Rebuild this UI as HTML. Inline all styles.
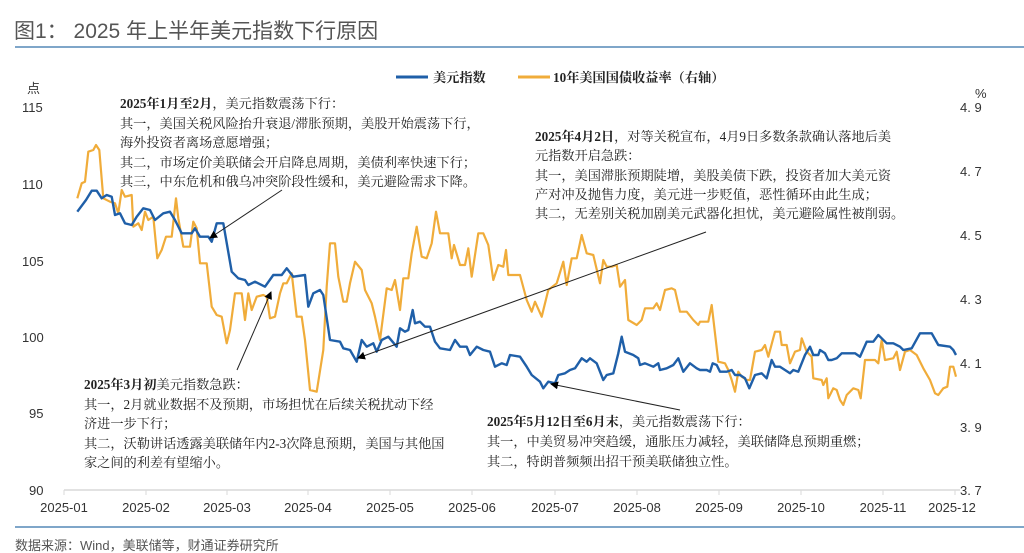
<!DOCTYPE html>
<html><head><meta charset="utf-8"><style>
body{margin:0;background:#fff;width:1024px;height:553px;overflow:hidden}
svg{display:block}
.s{font-family:"Liberation Serif","Noto Serif CJK SC",serif;font-size:13.2px;fill:#222}
.a{font-family:"Liberation Sans","Noto Sans CJK SC",sans-serif;font-size:13px;fill:#333}
</style></head><body>
<svg width="1024" height="553" viewBox="0 0 1024 553">
<text x="14" y="38" font-family="Liberation Sans,'Noto Sans CJK SC',sans-serif" font-size="21" fill="#555">图1：  2025 年上半年美元指数下行原因</text>
<line x1="15" y1="47" x2="1024" y2="47" stroke="#7fa6c9" stroke-width="2"/>
<line x1="15" y1="527" x2="1024" y2="527" stroke="#7fa6c9" stroke-width="2"/>
<text x="15" y="550" class="a" style="fill:#555">数据来源：Wind，美联储等，财通证券研究所</text>
<line x1="396" y1="77" x2="428" y2="77" stroke="#1f5fa8" stroke-width="3"/>
<text x="433" y="82" class="s" font-weight="bold" font-size="13">美元指数</text>
<line x1="518" y1="77" x2="550" y2="77" stroke="#f0ac3a" stroke-width="3"/>
<text x="553" y="82" class="s" font-weight="bold" font-size="13">10年美国国债收益率（右轴）</text>
<g class="a" text-anchor="start">
<text x="27" y="93">点</text>
<text x="22" y="112">115</text><text x="22" y="189">110</text><text x="22" y="266">105</text>
<text x="22" y="342">100</text><text x="29" y="418">95</text><text x="29" y="495">90</text>
</g>
<g class="a">
<text x="975" y="98">%</text>
<text x="960" y="112">4. 9</text><text x="960" y="176">4. 7</text><text x="960" y="240">4. 5</text>
<text x="960" y="304">4. 3</text><text x="960" y="368">4. 1</text><text x="960" y="432">3. 9</text><text x="960" y="495">3. 7</text>
</g>
<line x1="64" y1="490" x2="960" y2="490" stroke="#d9d9d9" stroke-width="1.5"/>
<g stroke="#d9d9d9"><line x1="64" y1="490" x2="64" y2="495"/><line x1="146" y1="490" x2="146" y2="495"/><line x1="227" y1="490" x2="227" y2="495"/><line x1="308" y1="490" x2="308" y2="495"/><line x1="390" y1="490" x2="390" y2="495"/><line x1="472" y1="490" x2="472" y2="495"/><line x1="555" y1="490" x2="555" y2="495"/><line x1="637" y1="490" x2="637" y2="495"/><line x1="719" y1="490" x2="719" y2="495"/><line x1="801" y1="490" x2="801" y2="495"/><line x1="883" y1="490" x2="883" y2="495"/><line x1="955" y1="490" x2="955" y2="495"/></g>
<g class="a" text-anchor="middle">
<text x="64" y="512">2025-01</text><text x="146" y="512">2025-02</text><text x="227" y="512">2025-03</text><text x="308" y="512">2025-04</text><text x="390" y="512">2025-05</text><text x="472" y="512">2025-06</text><text x="555" y="512">2025-07</text><text x="637" y="512">2025-08</text><text x="719" y="512">2025-09</text><text x="801" y="512">2025-10</text><text x="883" y="512">2025-11</text><text x="952" y="512">2025-12</text>
</g>
<polyline fill="none" stroke="#f0ac3a" stroke-width="2.2" stroke-linejoin="round" points="77.3,198.3 81.7,183.3 85,181.7 88.3,151.7 93.3,150 96,145 99.3,150 103.3,198.3 110,201.7 115,203.3 118.3,213.3 121.7,190 125,196.7 131.7,195 133.3,226.7 138.3,223.3 141.7,230 145,211.7 148.3,220 153.3,216.7 157.3,258.3 161.7,250 166,236.7 171.7,236.7 176,198.3 178.3,218.3 183.3,246.7 190,246.7 193.3,221.7 196.7,228.3 200,263.3 206.7,263.3 211.7,306.7 216.7,315 221.7,316.7 226.7,343.3 230,330 235,293.3 241.7,293.3 245,320 248.3,293.3 251.7,310 256.7,296.7 263.3,295 266.7,296.7 270,318.3 275,316.7 280,293.3 283.3,283.3 286.7,283.3 291.7,273.3 296.7,316.7 301.7,316.7 305,340 310,390 316.7,391.7 323.3,350 326.7,286.7 330,243.3 335,243.3 338.3,276.7 343.3,301.7 346.7,301.7 350,283.3 355,261.7 361.7,270 365,290 371.7,303.3 375,316.7 380,340 386.7,288.3 391.7,290 395,280 400,310 403.3,278.3 408.3,278.3 411.7,253.3 416.7,226.7 421.7,256.7 426.7,258.3 431.7,243.3 436,211.7 440,233.3 448.3,233.3 451.7,258.3 454,245 460,265 465,265 468.3,248.3 471.7,276.7 478.3,233.3 483.3,233.3 488.3,245 493.3,280 498.3,265 503.3,266.7 506,250 508.3,275 520,275 526.7,300 531.7,311.7 535,301.7 541.7,316.7 548.3,290 556.7,283.3 563.3,261.7 566.7,285 571.7,258.3 576.7,258.3 581.7,235 586.7,253.3 593.3,255 600,283.3 603.3,260 606.7,266.7 611.7,266.7 616.7,265 620,286.7 625,280 628.3,320 636.7,325 641.7,320 645,308.3 653.3,308.3 656.7,303.3 660,310 665,290 671.7,288.3 675,290 680,311.7 686.7,311.7 693.3,320 698.3,325 700,321.7 708.3,321.7 711.7,305 718.3,361.7 725,363.3 728.3,370 731.7,380 735,391.7 738.3,371.7 741.7,376.7 746.7,380 750,380 755,351.7 761.7,350 765,345 768.3,356.7 775,331.7 780,331.7 781.7,345 786.7,345 790,363.3 795,351.7 800,350 801.7,338.3 806.7,351.7 811.7,356.7 813.3,378.3 821.7,380 823.3,385 826.7,378.3 828.3,398.3 833.3,388.3 836.7,390 840,400 843.3,405 846.7,395 853.3,388.3 858.3,390 860.7,398.3 865,360 875,360 878.3,363.3 881.7,340 885,360 893.3,358.3 896.7,351.7 900,370 905,351.7 910,350 916.7,355 923.3,368.3 930,380 935,393.3 938.3,395 943.3,388.3 947.3,386.7 950,366.7 953.3,366.7 956,376.7"/>
<polyline fill="none" stroke="#1f5fa8" stroke-width="2.4" stroke-linejoin="round" points="77.3,211.7 86,200 91.7,190.7 96.7,190.7 101.7,198.3 106.7,195 111.7,196.7 115,215 120,213.3 125,223.3 131.7,225 136.7,216.7 143.3,208.3 150,210 155,220 163.3,213.3 170,211.7 175,220 181.7,233.3 191.7,233.3 195,228.3 200,236.7 208.3,236.7 211.7,241.7 216.7,223.3 223.3,223.3 231.7,271.7 238.3,278.3 245,280 248.3,285 255,281.7 265,286.7 273.3,275 281.7,275 286.7,268.3 293.3,276.7 305,275 308.3,306.7 313.3,293.3 320,290 323.3,295 330,340 340,341.7 343.3,348.3 350,350 356.7,361.7 361.7,340 366.7,346.7 373.3,343.3 376.7,351.7 381.7,340 388.3,336.7 396.7,346.7 400,328.3 405,331.7 408.3,330 412.7,310 415,323.3 420,321.7 425,326.7 430,326.7 435,341.7 440,348.3 450,350 455,340 460,346.7 466.7,346.7 470,355 476.7,346.7 483.3,350 490,351.7 495,366.7 501.7,363.3 506.7,365 510,355 520,356.7 526.7,366.7 531.7,375 540,381.7 543.3,388.3 548.3,381.7 555,383.3 558.3,375 565,373.3 570,370 575,368.3 581.7,358.3 586.7,361.7 590,358.3 596.7,363.3 603.3,380 606.7,375 613.3,373.3 618.3,353.3 621.7,336.7 625,351.7 633.3,355 638.3,358.3 640,365 645,363.3 653.3,366.7 658.3,363.3 660,370 666.7,368.3 673.3,365 678.3,358.3 683.3,371.7 690,363.3 696.7,368.3 700,370 706.7,370 710,371.7 712.7,363.3 716.7,365 720,371.7 726.7,371.7 731.7,370 735,375 740,375 745,378.3 749.3,388.3 755,375 761.7,373.3 766.7,378.3 771.7,360 775,366.7 780,366.7 785,370 790,373.3 793.3,370 798.3,371.7 805,355 810,346.7 813.3,355 818.3,355 820,350 825,353.3 828.3,360 831.7,360 836.7,358.3 841.7,353.3 855,353.3 860,356.7 866.7,341.7 873.3,341.7 878.3,335 881.7,338.3 886.7,343.3 893.3,343.3 900,346.7 903.3,350 911.7,348.3 920,333.3 931.7,333.3 938.3,345 950,346.7 953.3,350 956,355"/>
<defs><marker id="ah" markerWidth="8" markerHeight="8" refX="7" refY="4" orient="auto" markerUnits="userSpaceOnUse"><path d="M0,0 L8,4 L0,8z" fill="#000"/></marker></defs>
<g stroke="#222" stroke-width="1" marker-end="url(#ah)">
<line x1="282" y1="190" x2="210" y2="238"/>
<line x1="237" y1="370" x2="271" y2="292"/>
<line x1="706" y1="232" x2="358" y2="358"/>
<line x1="680" y1="410" x2="551" y2="384"/>
</g>
<g class="s">
<text x="120" y="108"><tspan font-weight="bold">2025年1月至2月</tspan>，美元指数震荡下行：</text>
<text x="120" y="128">其一，美国关税风险抬升衰退/滞胀预期，美股开始震荡下行，</text>
<text x="120" y="147">海外投资者离场意愿增强；</text>
<text x="120" y="167">其二，市场定价美联储会开启降息周期，美债利率快速下行；</text>
<text x="120" y="186">其三，中东危机和俄乌冲突阶段性缓和，美元避险需求下降。</text>
<text x="535" y="141"><tspan font-weight="bold">2025年4月2日</tspan>，对等关税宣布，4月9日多数条款确认落地后美</text>
<text x="535" y="160">元指数开启急跌：</text>
<text x="535" y="180">其一，美国滞胀预期陡增，美股美债下跌，投资者加大美元资</text>
<text x="535" y="199">产对冲及抛售力度，美元进一步贬值，恶性循环由此生成；</text>
<text x="535" y="218">其二，无差别关税加剧美元武器化担忧，美元避险属性被削弱。</text>
<text x="84" y="389"><tspan font-weight="bold">2025年3月初</tspan>美元指数急跌：</text>
<text x="84" y="409">其一，2月就业数据不及预期，市场担忧在后续关税扰动下经</text>
<text x="84" y="428">济进一步下行；</text>
<text x="84" y="448">其二，沃勒讲话透露美联储年内2-3次降息预期，美国与其他国</text>
<text x="84" y="467">家之间的利差有望缩小。</text>
<text x="487" y="426"><tspan font-weight="bold">2025年5月12日至6月末</tspan>，美元指数震荡下行：</text>
<text x="487" y="446">其一，中美贸易冲突趋缓，通胀压力减轻，美联储降息预期重燃；</text>
<text x="487" y="466">其二，特朗普频频出招干预美联储独立性。</text>
</g>
</svg>
</body></html>
